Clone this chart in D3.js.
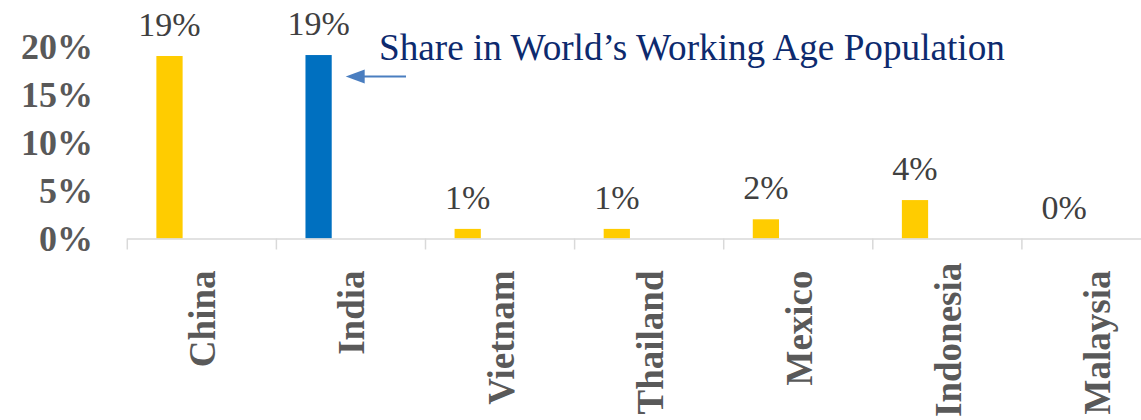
<!DOCTYPE html>
<html>
<head>
<meta charset="utf-8">
<script src="https://cdn.jsdelivr.net/npm/d3@7"></script>
<style>
  html, body { margin: 0; padding: 0; background: #fff; }
  svg { display: block; }
</style>
</head>
<body>
<svg id="chart" width="1141" height="420"></svg>
<script>
const categories = ["China", "India", "Vietnam", "Thailand", "Mexico", "Indonesia", "Malaysia"];
const shareValues = [0.19, 0.191, 0.01, 0.01, 0.02, 0.04, 0.0];
const valueLabels = ["19%", "19%", "1%", "1%", "2%", "4%", "0%"];
const highlighted = ["India"];
const yTicks = [0, 0.05, 0.10, 0.15, 0.20];
const annotationText = "Share in World\u2019s Working Age Population";

const svg = d3.select("#chart");
const serif = "'Liberation Serif', 'Times New Roman', serif";

const x = d3.scaleBand().domain(categories).range([127.3, 127.3 + 149.1 * categories.length]).paddingInner(0).paddingOuter(0);
const y = d3.scaleLinear().domain([0, 0.2]).range([238.5, 46.4]);
const bw = x.bandwidth();
const barOffset = bw * 0.195;
const barWidth = bw * 0.176;

// Y axis labels (no line)
const yAxis = d3.axisLeft(y).tickValues(yTicks).tickFormat(d3.format(".0%")).tickSize(0).tickPadding(0);
const yg = svg.append("g").attr("transform", "translate(93,0)").call(yAxis);
yg.select(".domain").remove();
yg.selectAll("text")
  .attr("font-family", serif).attr("font-size", 36).attr("font-weight", "bold")
  .attr("fill", "#595959").attr("dy", "0.34em");

// Bars
svg.append("g").selectAll("rect").data(categories).join("rect")
  .attr("x", d => x(d) + barOffset)
  .attr("width", barWidth)
  .attr("y", (d, i) => y(shareValues[i]))
  .attr("height", (d, i) => y(0) - y(shareValues[i]))
  .attr("fill", d => highlighted.includes(d) ? "#0070C0" : "#FFCC00");

// X axis line and boundary ticks
const xg = svg.append("g");
xg.append("line")
  .attr("x1", x.range()[0]).attr("x2", 1141)
  .attr("y1", y(0) + 0.5).attr("y2", y(0) + 0.5)
  .attr("stroke", "#D9D9D9").attr("stroke-width", 1.5);
xg.selectAll("line.tick").data(categories).join("line")
  .attr("class", "tick")
  .attr("x1", d => x(d)).attr("x2", d => x(d))
  .attr("y1", y(0)).attr("y2", y(0) + 11)
  .attr("stroke", "#D9D9D9").attr("stroke-width", 1.5);

// Category labels (rotated); shifted up if they would run off the bottom
const labelBottomLimit = 417;
xg.selectAll("text").data(categories).join("text")
  .attr("text-anchor", "end")
  .attr("font-family", serif).attr("font-size", 37).attr("font-weight", "bold")
  .attr("fill", "#595959")
  .text(d => d)
  .each(function(d) {
    const len = this.getComputedTextLength();
    let top = y(0) + 32;
    if (top + len > labelBottomLimit) top = labelBottomLimit - len;
    d3.select(this).attr("transform", `translate(${x(d) + bw / 2 + 13.5},${top}) rotate(-90)`);
  });

// Value labels
svg.append("g").selectAll("text").data(categories).join("text")
  .attr("x", d => x(d) + barOffset + barWidth / 2)
  .attr("y", (d, i) => y(shareValues[i]) - 20)
  .attr("text-anchor", "middle")
  .attr("font-family", serif).attr("font-size", 34)
  .attr("fill", "#404040")
  .text((d, i) => valueLabels[i]);

// Annotation
svg.append("text")
  .attr("x", 379).attr("y", 59.5)
  .attr("font-family", serif).attr("font-size", 37.2)
  .attr("fill", "#0D2A6E")
  .text(annotationText);

// Arrow
const arrowY = 76.5;
const arrowTip = x("India") + barOffset + barWidth + 14;
svg.append("line")
  .attr("x1", arrowTip + 15).attr("x2", 406)
  .attr("y1", arrowY).attr("y2", arrowY)
  .attr("stroke", "#4A7EC0").attr("stroke-width", 2);
svg.append("path")
  .attr("d", `M${arrowTip},${arrowY} L${arrowTip + 19},${arrowY - 7} L${arrowTip + 19},${arrowY + 7} Z`)
  .attr("fill", "#4A7EC0");
</script>
</body>
</html>
